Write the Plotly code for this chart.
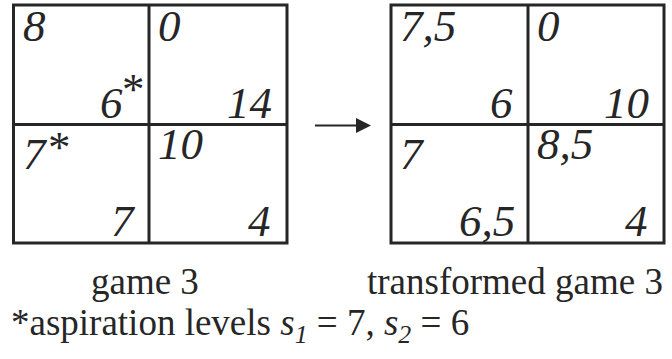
import plotly.graph_objects as go

# ---- data ----
cells = ["top-left", "top-right", "bottom-left", "bottom-right"]
game3_p1 = ["8", "0", "7", "10"]
game3_p2 = ["6", "14", "7", "4"]
game3_star_p1 = [False, False, True, False]
game3_star_p2 = [True, False, False, False]
trans_p1 = ["7,5", "0", "7", "8,5"]
trans_p2 = ["6", "10", "6,5", "4"]
titles = ["game 3", "transformed game 3"]
aspiration = [("1", "7"), ("2", "6")]

# ---- layout constants ----
W, H = 672, 359
INK = "#262626"
FONT = "Liberation Serif"
NUM_SIZE = 45
LAB_SIZE = 37
grids = [
    {"x": [13.5, 149, 287], "y": [5, 124.5, 243]},
    {"x": [391, 528, 664], "y": [5, 124.5, 243]},
]
title_cx = [145, 515]
top_dy = [-5, -5, 3, -7]        # offset of player-1 number box below the cell top
right_dx = [14, 14, 12, 15]     # offset of player-2 number from the cell right

fig = go.Figure()
fig.add_trace(go.Scatter(x=[0, W], y=[0, H], mode="markers",
                         marker=dict(opacity=0), hoverinfo="skip", showlegend=False))

shapes = []
annotations = []

def num_ann(x, y, text, xanchor, yanchor, italic=True, size=NUM_SIZE, yshift=0):
    annotations.append(dict(
        x=x, y=y, xref="x", yref="y", text=text, showarrow=False,
        xanchor=xanchor, yanchor=yanchor, yshift=yshift,
        font=dict(family=FONT, size=size, color=INK,
                  style="italic" if italic else "normal"),
        borderpad=0,
    ))

games = [
    (game3_p1, game3_p2, game3_star_p1, game3_star_p2),
    (trans_p1, trans_p2, [False] * 4, [False] * 4),
]

for g, (p1, p2, s1, s2) in zip(grids, games):
    xs, ys = g["x"], g["y"]
    shapes.append(dict(type="rect", x0=xs[0], x1=xs[2], y0=ys[0], y1=ys[2],
                       xref="x", yref="y", line=dict(color=INK, width=3)))
    shapes.append(dict(type="line", x0=xs[1], x1=xs[1], y0=ys[0], y1=ys[2],
                       xref="x", yref="y", line=dict(color=INK, width=3)))
    shapes.append(dict(type="line", x0=xs[0], x1=xs[2], y0=ys[1], y1=ys[1],
                       xref="x", yref="y", line=dict(color=INK, width=3)))
    for i in range(4):
        r, c = divmod(i, 2)
        cx0, cx1 = xs[c], xs[c + 1]
        cy0, cy1 = ys[r], ys[r + 1]
        num_ann(cx0 + 8, cy0, p1[i], "left", "top", yshift=-top_dy[i])
        if s1[i]:
            num_ann(cx0 + 33, cy0, "*", "left", "top", italic=False, yshift=4)
        if s2[i]:
            num_ann(cx1 - 3, cy1 - 62, "*", "right", "top", italic=False)
            num_ann(cx1 - 25, cy1 + 4, p2[i], "right", "bottom")
        else:
            num_ann(cx1 - right_dx[i], cy1 + 4, p2[i], "right", "bottom")

# titles
for cx, t in zip(title_cx, titles):
    annotations.append(dict(
        x=cx, y=303, xref="x", yref="y", text=t,
        showarrow=False, xanchor="center", yanchor="bottom",
        font=dict(family=FONT, size=LAB_SIZE, color=INK), borderpad=0))

# footnote
foot = ("*aspiration levels "
        + ", ".join(f"<i>s</i><sub><i>{k}</i></sub> = {v}" for k, v in aspiration))
annotations.append(dict(
    x=10, y=350, xref="x", yref="y", text=foot, showarrow=False,
    xanchor="left", yanchor="bottom",
    font=dict(family=FONT, size=LAB_SIZE, color=INK), borderpad=0))

# arrow between the grids
ay = 125.5
shapes.append(dict(type="line", x0=315, x1=358, y0=ay, y1=ay, xref="x", yref="y",
                   line=dict(color=INK, width=2)))
shapes.append(dict(type="path", xref="x", yref="y",
                   path=f"M 356 {ay-7.5} L 371 {ay} L 356 {ay+7.5} Z",
                   fillcolor=INK, line=dict(color=INK, width=0)))

fig.update_layout(
    width=W, height=H, margin=dict(l=0, r=0, t=0, b=0),
    paper_bgcolor="white", plot_bgcolor="white",
    xaxis=dict(range=[0, W], visible=False, fixedrange=True),
    yaxis=dict(range=[H, 0], visible=False, fixedrange=True),
    shapes=shapes, annotations=annotations, showlegend=False,
)
fig.write_html("out.html", config={"displayModeBar": False},
               post_script="document.body.style.margin='0';document.body.style.overflow='hidden';")
